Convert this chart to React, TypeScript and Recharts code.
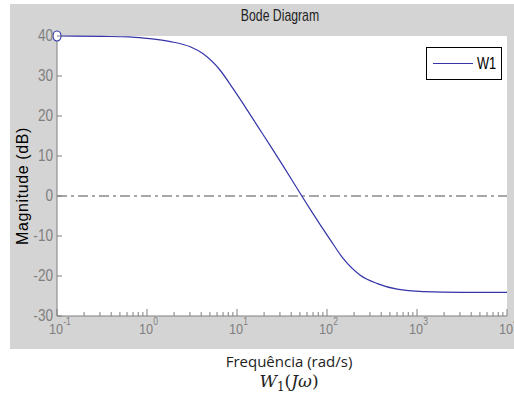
import React from 'react';
import { LineChart, Line, XAxis, YAxis, CartesianGrid, ReferenceLine, Legend } from 'recharts';

// values
const freq = [0.1, 0.316, 0.631, 1, 1.82, 3.02, 4.17, 6.46, 9.12, 12.9, 17.0, 23.4, 32.4, 52.5, 67.6, 87.1, 107, 151, 234, 363, 603, 1175, 3162, 10000];
const magnitude = [40, 39.9, 39.8, 39.4, 38.6, 37.3, 35.6, 31.5, 26.7, 21.6, 17.4, 12.6, 7.6, 0, -3.9, -7.7, -10.7, -15.6, -19.8, -21.9, -23.3, -23.9, -24.1, -24.1];
const decades = [0.1, 1, 10, 100, 1000, 10000];
const magTicks = [-30, -20, -10, 0, 10, 20, 30, 40];
const seriesName = 'W1';

const data = freq.map((w, i) => ({ w, mag: magnitude[i] }));
const freqTicks = decades.flatMap((d, i) =>
  i === decades.length - 1 ? [d] : [1, 2, 3, 4, 5, 6, 7, 8, 9].map((m) => m * d)
);

const AXIS = '#808080';
const LINE = '#3434a8';
const FONT = '"Liberation Sans", Arial, sans-serif';

const isMajor = (v: number) => Math.abs(Math.log10(v) - Math.round(Math.log10(v))) < 1e-6;

const BottomTick = (props: any) => {
  const { x, y, payload } = props;
  const major = isMajor(payload.value);
  const exp = Math.round(Math.log10(payload.value));
  return (
    <g>
      <line x1={x} y1={y} x2={x} y2={y - (major ? 7 : 4)} stroke={AXIS} />
      {major && (
        <text
          transform={`translate(${x - 8},${y + 18}) scale(0.85,1)`}
          textAnchor="start"
          fill={AXIS}
          fontSize={15}
          fontFamily={FONT}
        >
          10
          <tspan dy={-9} fontSize={10}>
            {exp}
          </tspan>
        </text>
      )}
    </g>
  );
};

const TopTick = (props: any) => {
  const { x, y, payload } = props;
  const major = isMajor(payload.value);
  return <line x1={x} y1={y} x2={x} y2={y + (major ? 7 : 4)} stroke={AXIS} />;
};

const LeftTick = (props: any) => {
  const { x, y, payload } = props;
  return (
    <g>
      <line x1={x} y1={y} x2={x + 5} y2={y} stroke={AXIS} />
      <text
        transform={`translate(${x - 4},${y}) scale(0.85,1)`}
        textAnchor="end"
        dominantBaseline="central"
        fill={AXIS}
        fontSize={16}
        fontFamily={FONT}
      >
        {payload.value}
      </text>
    </g>
  );
};

const RightTick = (props: any) => {
  const { x, y } = props;
  return <line x1={x} y1={y} x2={x - 5} y2={y} stroke={AXIS} />;
};

const renderDot = (props: any) => {
  const { cx, cy, index } = props;
  if (index !== 0) return <g key={`d${index}`} />;
  return <ellipse key={`d${index}`} cx={cx} cy={cy} rx={4} ry={5} fill="#fff" stroke={LINE} strokeWidth={1.2} />;
};

const LegendBox = () => (
  <div style={{ width: 74, height: 31, border: '1px solid #000', background: '#fff' }}>
    <svg width={74} height={31} style={{ display: 'block' }}>
      <line x1={6} x2={46} y1={15.5} y2={15.5} stroke={LINE} strokeWidth={1.2} />
      <text
        transform="translate(50,15.5) scale(0.8,1)"
        dominantBaseline="central"
        fontSize={16}
        fontFamily={FONT}
        fill="#000"
      >
        {seriesName}
      </text>
    </svg>
  </div>
);

export default function App() {
  return (
    <div style={{ position: 'absolute', left: 0, top: 0, width: 514, height: 412, background: '#fff', overflow: 'hidden' }}>
      <div style={{ position: 'absolute', left: 10, top: 4, width: 504, height: 345, background: '#d4d4d4' }} />
      <div
        style={{
          position: 'absolute',
          left: 180,
          top: 7,
          width: 200,
          textAlign: 'center',
          fontFamily: FONT,
          fontSize: 17,
          lineHeight: '17px',
          color: '#222',
          transform: 'scaleX(0.72)',
        }}
      >
        Bode Diagram
      </div>
      <div
        style={{
          position: 'absolute',
          left: 23 - 70,
          top: 186 - 9,
          width: 140,
          height: 18,
          lineHeight: '18px',
          textAlign: 'center',
          fontFamily: FONT,
          fontSize: 16,
          letterSpacing: 0.6,
          color: '#000',
          transform: 'rotate(-90deg)',
        }}
      >
        Magnitude (dB)
      </div>
      <div style={{ position: 'absolute', left: 0, top: 0 }}>
        <LineChart width={514} height={412} data={data} margin={{ top: 36, right: 7, bottom: 66, left: 0 }}>
          <CartesianGrid horizontal={false} vertical={false} fill="#fff" stroke="none" />
          <XAxis
            dataKey="w"
            type="number"
            scale="log"
            domain={[0.1, 10000]}
            ticks={freqTicks}
            interval={0}
            tick={BottomTick}
            tickLine={false}
            tickSize={0}
            tickMargin={0}
            axisLine={{ stroke: AXIS }}
            height={30}
          />
          <XAxis
            xAxisId="top"
            orientation="top"
            dataKey="w"
            type="number"
            scale="log"
            domain={[0.1, 10000]}
            ticks={freqTicks}
            interval={0}
            tick={TopTick}
            tickLine={false}
            tickSize={0}
            tickMargin={0}
            axisLine={{ stroke: AXIS }}
            height={0}
          />
          <YAxis
            type="number"
            domain={[-30, 40]}
            ticks={magTicks}
            interval={0}
            tick={LeftTick}
            tickLine={false}
            tickSize={0}
            tickMargin={0}
            axisLine={{ stroke: AXIS }}
            width={57}
          />
          <YAxis
            yAxisId="right"
            orientation="right"
            type="number"
            domain={[-30, 40]}
            ticks={magTicks}
            interval={0}
            tick={RightTick}
            tickLine={false}
            tickSize={0}
            tickMargin={0}
            axisLine={{ stroke: AXIS }}
            width={0}
          />
          <ReferenceLine y={0} stroke="#8a8a8a" strokeWidth={1.5} strokeDasharray="10 4 3 4" />
          <Line
            dataKey="mag"
            name={seriesName}
            type="monotone"
            stroke={LINE}
            strokeWidth={1.2}
            dot={renderDot}
            activeDot={false}
            isAnimationActive={false}
          />
          <Legend
            layout="vertical"
            align="center"
            verticalAlign="middle"
            content={LegendBox}
            wrapperStyle={{ top: 47, left: 426, width: 76, height: 33 }}
          />
        </LineChart>
      </div>
      <div
        style={{
          position: 'absolute',
          left: 139,
          top: 351,
          width: 300,
          textAlign: 'center',
          fontFamily: '"Open Sans", sans-serif',
          fontSize: 15,
          lineHeight: '20px',
          color: '#222',
        }}
      >
        Frequência (rad/s)
      </div>
      <div
        style={{
          position: 'absolute',
          left: 139,
          top: 370,
          width: 300,
          textAlign: 'center',
          fontFamily: '"DejaVu Serif", serif',
          fontSize: 17,
          lineHeight: '22px',
          color: '#222',
        }}
      >
        <i>W</i>
        <sub style={{ fontSize: 12 }}>1</sub>(<i>J</i>
        <i>ω</i>)
      </div>
    </div>
  );
}
